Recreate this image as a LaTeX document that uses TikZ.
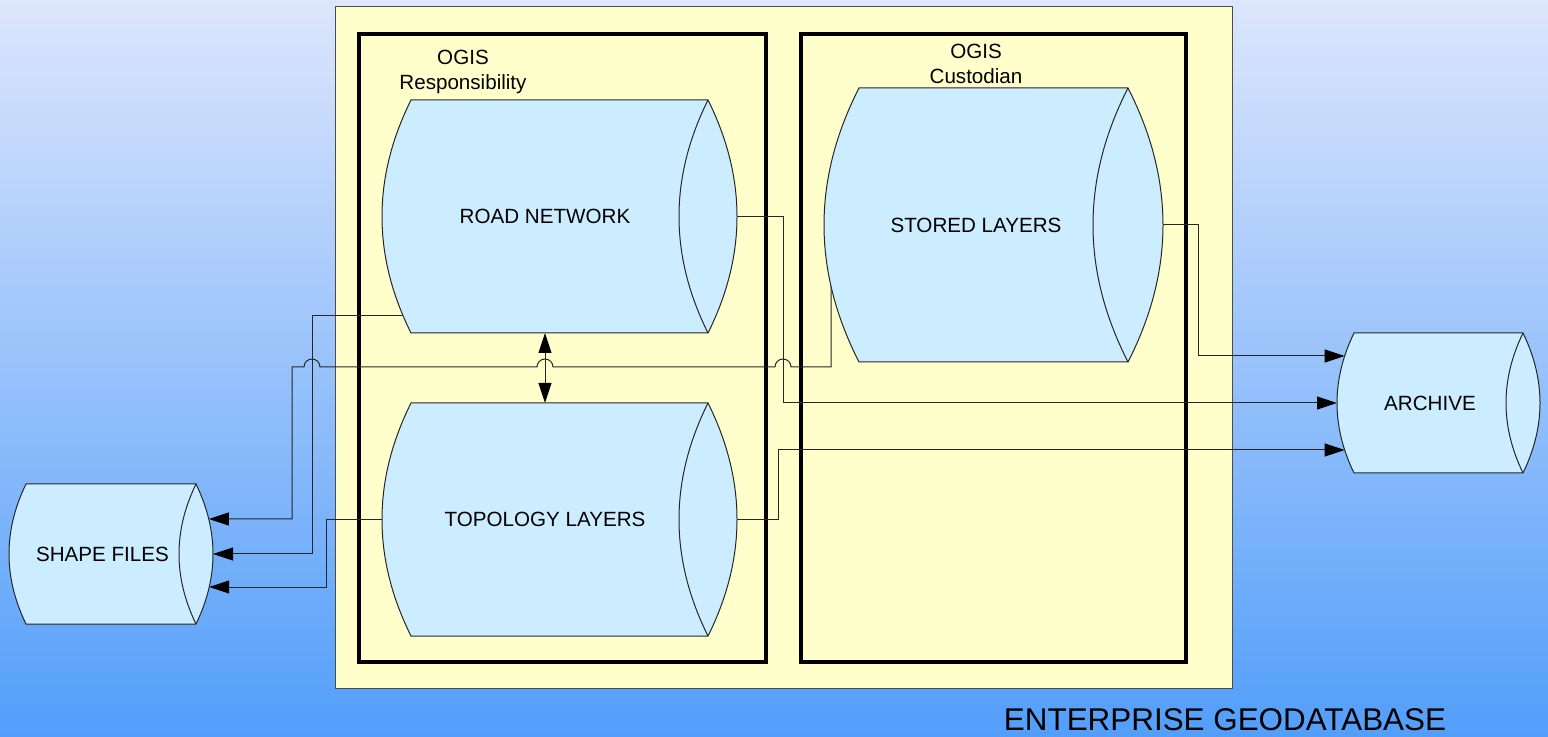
\documentclass[tikz,border=0pt]{standalone}
\usepackage{fontspec}
\setmainfont{Liberation Sans}
\usetikzlibrary{arrows.meta}
\pgfdeclarelayer{background}
\pgfdeclarelayer{wires}
\pgfsetlayers{background,wires,main}
\definecolor{bgtop}{RGB}{221,230,252}
\definecolor{bgbot}{RGB}{82,158,250}
\definecolor{geoyellow}{RGB}{255,255,204}
\definecolor{drumblue}{RGB}{204,236,255}
\tikzset{
  drum/.style={draw=black!85,line width=0.5pt,fill=drumblue},
  drumtext/.style={inner sep=0pt,outer sep=0pt,font=\fontsize{10.3}{12.5}\selectfont},
  grouplabel/.style={align=center,inner sep=0pt,font=\fontsize{10.3}{12.5}\selectfont},
  link/.style={draw=black!85,line width=0.5pt},
  arr/.style={-{Triangle[length=10pt,width=6.5pt,color=black]}},
  dblarr/.style={{Triangle[length=10pt,width=6.5pt,color=black]}-{Triangle[length=10pt,width=6.5pt,color=black]}},
}
\begin{document}
\begin{tikzpicture}[x=0.5pt,y=-0.5pt]
\begin{pgfonlayer}{background}
\fill[top color=bgtop,bottom color=bgbot] (0,0) rectangle (1548,737);
\draw[fill=geoyellow,draw=black!70,line width=0.5pt] (335,7) rectangle (1232,688);
\draw[line width=1.6pt] (359,34) rectangle (766,662);
\draw[line width=1.6pt] (801,34) rectangle (1186,662);
\end{pgfonlayer}
% drums: name / left / top / right / bottom / arc depth / text
\foreach \nm/\xa/\ya/\xb/\yb/\d/\txt in {
  road/382/100/737/333/29/ROAD NETWORK,
  topo/382/403/737/636/29/TOPOLOGY LAYERS,
  stored/824/88/1163/362/35/STORED LAYERS,
  shp/9/484/213/624/17/SHAPE FILES,
  archive/1337/333/1540/473/17/ARCHIVE}{
  \pgfmathsetmacro{\xl}{\xa+\d}
  \pgfmathsetmacro{\xr}{\xb-\d}
  \pgfmathsetmacro{\k}{4*\d/3}
  \pgfmathsetmacro{\yt}{\ya+(\yb-\ya)/3}
  \pgfmathsetmacro{\yu}{\yb-(\yb-\ya)/3}
  \pgfmathsetmacro{\ym}{(\ya+\yb)/2}
  \pgfmathsetmacro{\xc}{(\xa+\xr)/2}
  \pgfmathsetmacro{\bw}{(\xr-\xa)/2}
  \pgfmathsetmacro{\bh}{(\yb-\ya)/2}
  \draw[drum] (\xl,\ya) -- (\xr,\ya) .. controls (\xr+\k,\yt) and (\xr+\k,\yu) .. (\xr,\yb)
    -- (\xl,\yb) .. controls (\xl-\k,\yu) and (\xl-\k,\yt) .. (\xl,\ya) -- cycle;
  \draw[drum,fill=none] (\xr,\ya) .. controls (\xr-\k,\yt) and (\xr-\k,\yu) .. (\xr,\yb);
  \node[drumtext,minimum width=\bw pt,minimum height=\bh pt] (\nm) at (\xc,\ym) {\txt};
}
\node[grouplabel] (resp) at (463,72) {OGIS\\Responsibility};
\node[grouplabel] (cust) at (976,64) {OGIS\\Custodian};
\node[font=\fontsize{15.7}{18}\selectfont,inner sep=0pt] (title) at (1225,720) {ENTERPRISE GEODATABASE};
\begin{pgfonlayer}{wires}
\draw[link,arr] (road.east) -| (783,403) -- (archive.west);
\draw[link,arr] ([shift={(7,0)}]stored.west) |- (791,367)
  arc[start angle=0,end angle=180,radius=4pt] -- (553,367)
  arc[start angle=0,end angle=180,radius=4pt] -- (320,367)
  arc[start angle=0,end angle=180,radius=4pt] -- (292,367)
  |- ([shift={(12.75,-35)}]shp.east);
\draw[link,arr] ([shift={(30,99.5)}]road.west) -| (312,554) -- ([shift={(17,0)}]shp.east);
\draw[link,arr] (topo.west) -| (326,587) -- ([shift={(13.2,33)}]shp.east);
\draw[link,arr] (topo.east) -| (778,450) -- ([shift={(7.6,47)}]archive.west);
\draw[link,arr] (stored.east) -| (1198,356) -- ([shift={(7.6,-47)}]archive.west);
\draw[link,dblarr] (road.south) -- (topo.north);
\end{pgfonlayer}
\end{tikzpicture}
\end{document}
